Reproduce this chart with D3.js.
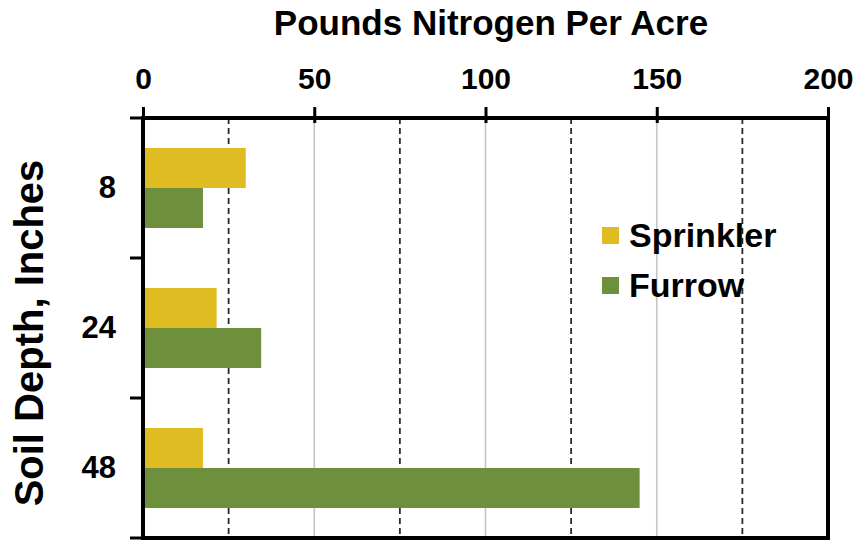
<!DOCTYPE html>
<html>
<head>
<meta charset="utf-8">
<script src="https://cdn.jsdelivr.net/npm/d3@7"></script>
<style>
  html, body { margin: 0; padding: 0; background: #fff; }
  svg { display: block; font-family: "Liberation Sans", Arial, sans-serif; font-weight: bold; }
</style>
</head>
<body>
<svg id="chart" width="857" height="542"></svg>
<script>
const categories = ["8", "24", "48"];
const seriesNames = ["Sprinkler", "Furrow"];
const sprinkler = [30, 21.5, 17.5];
const furrow = [17.5, 34.5, 145];
const xTicks = [0, 50, 100, 150, 200];
const solidGrid = [50, 100, 150];
const dashedGrid = [25, 75, 125, 175];
const colors = ["#dfbd22", "#6e8f3b"];

const W = 857, H = 542;
const L = 143, R = 828, T = 118, B = 538;
const svg = d3.select("#chart");

const x = d3.scaleLinear().domain([0, 200]).range([L, R]);
const y = d3.scaleBand().domain(categories).range([T, B]).paddingInner(0).paddingOuter(0);
const inner = d3.scaleBand().domain(seriesNames).range([y.bandwidth() * 30 / 140, y.bandwidth() * 110 / 140]);

const values = [sprinkler, furrow];

// gridlines
svg.append("g").selectAll("line").data(solidGrid).join("line")
  .attr("x1", d => x(d)).attr("x2", d => x(d))
  .attr("y1", T).attr("y2", B)
  .attr("stroke", "#c9c3c3").attr("stroke-width", 1.6);
svg.append("g").selectAll("line").data(dashedGrid).join("line")
  .attr("x1", d => x(d)).attr("x2", d => x(d))
  .attr("y1", T).attr("y2", B)
  .attr("stroke", "#2a2a2a").attr("stroke-width", 1.8)
  .attr("stroke-dasharray", "6,4");

// bars
const groups = svg.append("g").selectAll("g").data(categories).join("g")
  .attr("transform", c => `translate(0,${y(c)})`);
groups.selectAll("rect")
  .data((c, i) => seriesNames.map((s, j) => ({ s, v: values[j][i], j })))
  .join("rect")
  .attr("x", x(0))
  .attr("y", d => inner(d.s))
  .attr("width", d => x(d.v) - x(0))
  .attr("height", inner.bandwidth())
  .attr("fill", d => colors[d.j]);

// frame
svg.append("rect")
  .attr("x", L).attr("y", T).attr("width", R - L).attr("height", B - T)
  .attr("fill", "none").attr("stroke", "#000").attr("stroke-width", 4);

// top axis
const xAxis = svg.append("g").attr("transform", `translate(0,${T})`)
  .call(d3.axisTop(x).tickValues(xTicks).tickSizeInner(11).tickSizeOuter(0).tickPadding(18));
xAxis.select(".domain").remove();
xAxis.selectAll(".tick line").attr("stroke", "#000").attr("stroke-width", 3).attr("y2", -11).attr("y1", 5);
xAxis.selectAll(".tick text").attr("font-size", 30).attr("font-weight", "bold").attr("fill", "#000")
  .attr("font-family", "'Liberation Sans', Arial, sans-serif");

// left axis labels
const yAxis = svg.append("g").attr("transform", `translate(${L},0)`)
  .call(d3.axisLeft(y).tickSize(0).tickPadding(27));
yAxis.select(".domain").remove();
yAxis.selectAll(".tick text").attr("font-size", 31).attr("font-weight", "bold").attr("fill", "#000")
  .attr("font-family", "'Liberation Sans', Arial, sans-serif");

// left boundary ticks
const boundaries = categories.map(c => y(c)).concat([y.range()[1]]);
svg.append("g").selectAll("line").data(boundaries).join("line")
  .attr("x1", L - 13).attr("x2", L)
  .attr("y1", d => d).attr("y2", d => d)
  .attr("stroke", "#000").attr("stroke-width", 3);

// titles
svg.append("text").attr("x", 491).attr("y", 35).attr("text-anchor", "middle")
  .attr("font-size", 35).attr("fill", "#000").text("Pounds Nitrogen Per Acre");
svg.append("text").attr("transform", `translate(43,${(T + B) / 2 + 5}) rotate(-90)`)
  .attr("text-anchor", "middle").attr("font-size", 40).attr("fill", "#000")
  .text("Soil Depth, Inches");

// legend
const leg = svg.append("g").selectAll("g").data(seriesNames).join("g")
  .attr("transform", (d, i) => `translate(602,${227 + i * 50})`);
leg.append("rect").attr("width", 17).attr("height", 17).attr("fill", (d, i) => colors[i]);
leg.append("text").attr("x", 27).attr("y", 20).attr("font-size", 34).attr("fill", "#000").text(d => d);
</script>
</body>
</html>
